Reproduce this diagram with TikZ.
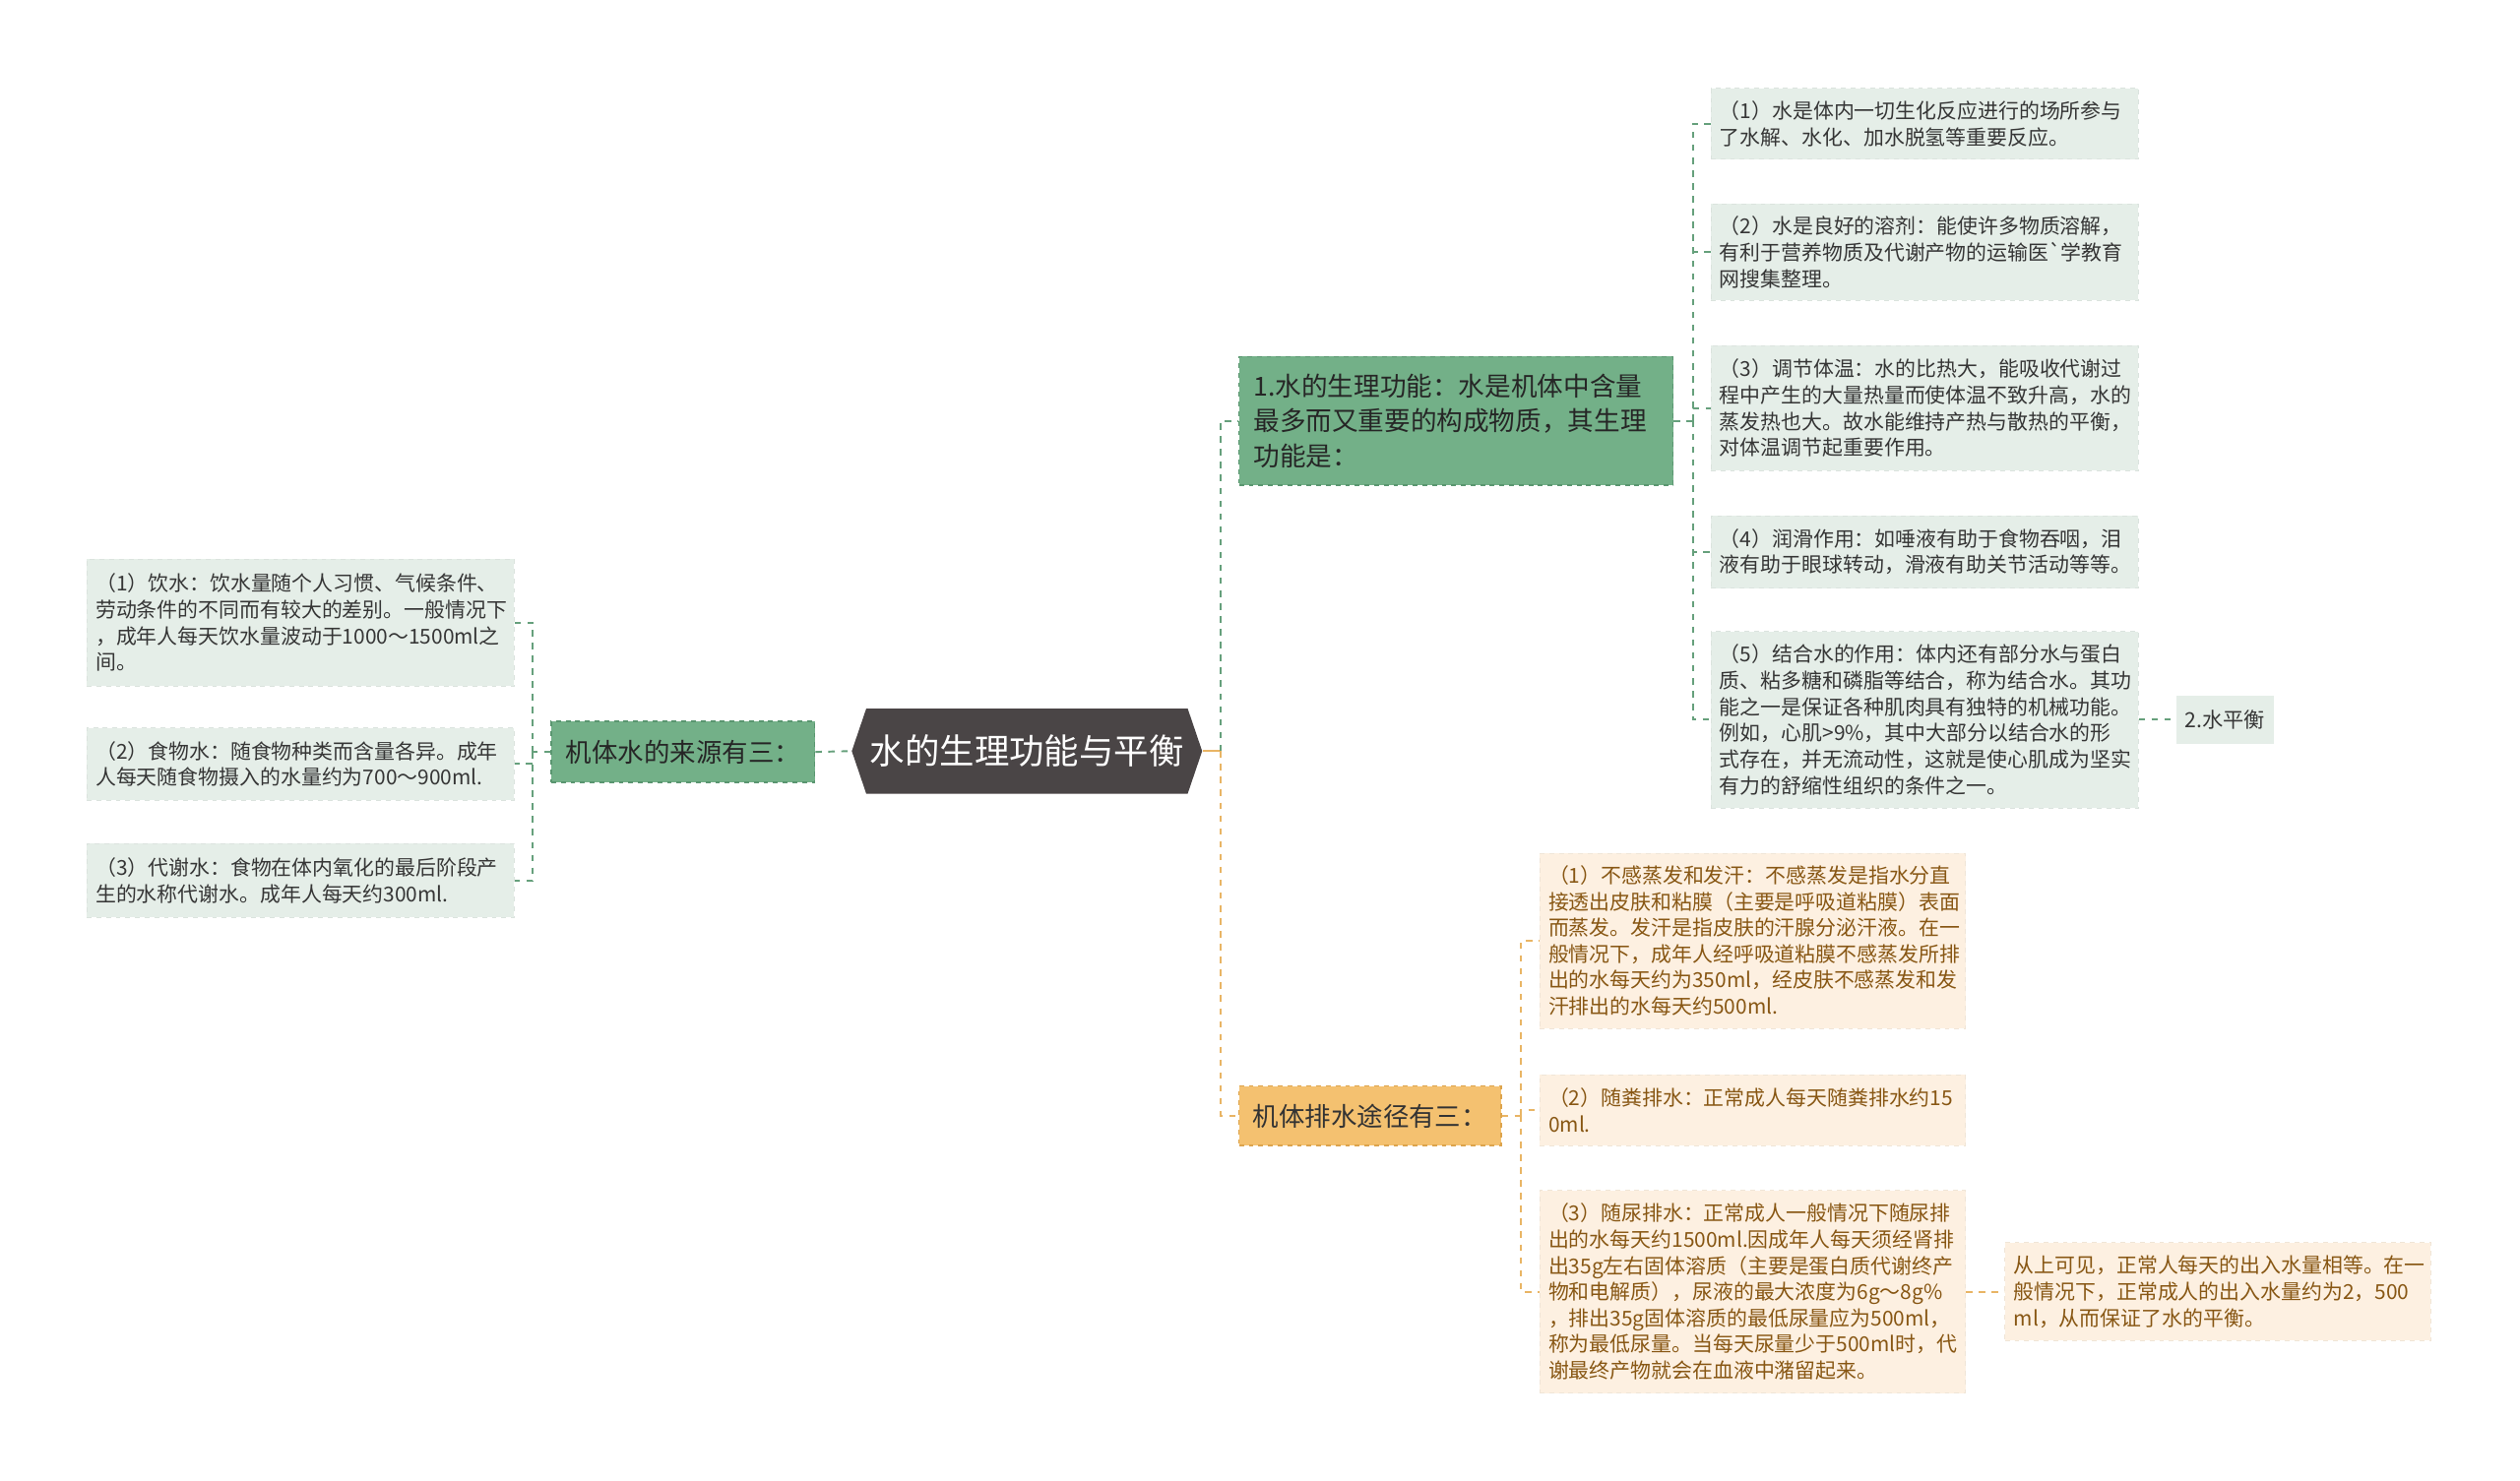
\documentclass[tikz,border=0pt]{standalone}
\usepackage{fontspec}
\setmainfont[Ligatures=TeXOff]{Noto Sans CJK SC}
\definecolor{rootc}{HTML}{4A4546}
\definecolor{gmain}{HTML}{73B088}
\definecolor{gborder}{HTML}{5A9670}
\definecolor{gbox}{HTML}{E5EEE8}
\definecolor{gline}{HTML}{66A07C}
\definecolor{gtext}{HTML}{363636}
\definecolor{omain}{HTML}{F4C170}
\definecolor{oborder}{HTML}{DDA44C}
\definecolor{obox}{HTML}{FDF0E1}
\definecolor{oline}{HTML}{E9B565}
\definecolor{otext}{HTML}{885714}
\tikzset{
  rootnode/.style={fill=white, minimum width=218pt, minimum height=53pt, inner sep=0pt,
    text=white, font=\fontsize{21.7}{26}\selectfont,
    path picture={\fill[rootc] (path picture bounding box.west)
      -- ([xshift=9pt]path picture bounding box.north west)
      -- ([xshift=-9pt]path picture bounding box.north east)
      -- (path picture bounding box.east)
      -- ([xshift=-9pt]path picture bounding box.south east)
      -- ([xshift=9pt]path picture bounding box.south west) -- cycle;}},
  gtopic/.style={fill=gmain, draw=gborder, dashed, line width=0.8pt, text=black!85,
    font=\fontsize{16.2}{20}\selectfont, minimum height=38pt},
  otopic/.style={fill=omain, draw=oborder, dashed, line width=0.8pt, text=black!80,
    font=\fontsize{16.2}{20}\selectfont, minimum height=37pt},
  gleaf/.style={fill=gbox, draw=gbox!90!gray, dashed, line width=0.5pt, text=gtext,
    align=left, text width=255pt, inner xsep=5.5pt},
  oleaf/.style={fill=obox, draw=obox!90!gray, dashed, line width=0.5pt, text=otext,
    align=left, text width=254pt, inner xsep=5.5pt},
  glink/.style={draw=gline, line width=1.2pt, dash pattern=on 4pt off 4pt},
  olink/.style={draw=oline, line width=1.2pt, dash pattern=on 4pt off 4pt},
}
\begin{document}
\begin{tikzpicture}[x=1pt, y=-1pt, font=\fontsize{12.8}{16.3}\selectfont]
    \fill[white] (0,0) rectangle (1568,921.8);
    \useasboundingbox (0,0) rectangle (1568,921.8);

    % Root
    \node[rootnode] (root) at (639,467.5) {水的生理功能与平衡};

    % Left branch: sources
    \node[gtopic, minimum width=164pt] (lp) at (425,468) {机体水的来源有三：};
    \node[gleaf, minimum height=79pt] (l1) at (187,387.5) {（1）饮水：饮水量随个人习惯、气候条件、\\劳动条件的不同而有较大的差别。一般情况下\\，成年人每天饮水量波动于1000～1500ml之\\间。};
    \node[gleaf, minimum height=45pt] (l2) at (187,475.5) {（2）食物水：随食物种类而含量各异。成年\\人每天随食物摄入的水量约为700～900ml.};
    \node[gleaf, minimum height=46pt] (l3) at (187,548) {（3）代谢水：食物在体内氧化的最后阶段产\\生的水称代谢水。成年人每天约300ml.};

    % Right branch: functions
    \node[gtopic, align=left, text width=252pt, inner xsep=9pt, minimum height=80pt,
      font=\fontsize{16.3}{22}\selectfont] (fn) at (906,262) {1.水的生理功能：水是机体中含量\\最多而又重要的构成物质，其生理\\功能是：};
    \node[gleaf, minimum height=44pt] (c1) at (1197.5,77) {（1）水是体内一切生化反应进行的场所参与\\了水解、水化、加水脱氢等重要反应。};
    \node[gleaf, minimum height=60pt] (c2) at (1197.5,157) {（2）水是良好的溶剂：能使许多物质溶解，\\有利于营养物质及代谢产物的运输医`学教育\\网搜集整理。};
    \node[gleaf, minimum height=78pt] (c3) at (1197.5,254) {（3）调节体温：水的比热大，能吸收代谢过\\程中产生的大量热量而使体温不致升高，水的\\蒸发热也大。故水能维持产热与散热的平衡，\\对体温调节起重要作用。};
    \node[gleaf, minimum height=45pt] (c4) at (1197.5,343.5) {（4）润滑作用：如唾液有助于食物吞咽，泪\\液有助于眼球转动，滑液有助关节活动等等。};
    \node[gleaf, minimum height=110pt] (c5) at (1197.5,448) {（5）结合水的作用：体内还有部分水与蛋白\\质、粘多糖和磷脂等结合，称为结合水。其功\\能之一是保证各种肌肉具有独特的机械功能。\\例如，心肌>9\%，其中大部分以结合水的形\\式存在，并无流动性，这就是使心肌成为坚实\\有力的舒缩性组织的条件之一。};
    \node[fill=gbox, text=gtext, minimum width=61pt, minimum height=30pt, inner sep=0pt,
      font=\fontsize{13}{15}\selectfont] (wb) at (1384.5,448) {2.水平衡};

    % Right branch: output
    \node[otopic, minimum width=163pt] (dr) at (852.5,694.5) {机体排水途径有三：};
    \node[oleaf, minimum height=109pt] (o1) at (1090.5,585.5) {（1）不感蒸发和发汗：不感蒸发是指水分直\\接透出皮肤和粘膜（主要是呼吸道粘膜）表面\\而蒸发。发汗是指皮肤的汗腺分泌汗液。在一\\般情况下，成年人经呼吸道粘膜不感蒸发所排\\出的水每天约为350ml，经皮肤不感蒸发和发\\汗排出的水每天约500ml.};
    \node[oleaf, minimum height=44pt] (o2) at (1090.5,691) {（2）随粪排水：正常成人每天随粪排水约15\\0ml.};
    \node[oleaf, minimum height=126pt] (o3) at (1090.5,804) {（3）随尿排水：正常成人一般情况下随尿排\\出的水每天约1500ml.因成年人每天须经肾排\\出35g左右固体溶质（主要是蛋白质代谢终产\\物和电解质），尿液的最大浓度为6g～8g\%\\，排出35g固体溶质的最低尿量应为500ml，\\称为最低尿量。当每天尿量少于500ml时，代\\谢最终产物就会在血液中潴留起来。};
    \node[oleaf, minimum height=61pt] (o4) at (1380,804) {从上可见，正常人每天的出入水量相等。在一\\般情况下，正常成人的出入水量约为2，500\\ml，从而保证了水的平衡。};

    % Links
    \draw[glink] (lp.east) -- (root.west);
    \draw[glink] (lp.west) -- ++(-11,0) coordinate (lj);
    \foreach \n in {l1,l2,l3}
        \draw[glink] (lj) |- (\n.east);

    \coordinate (rj) at ([xshift=11.5pt]root.east);
    \draw[draw=oline, line width=1.2pt] (root.east) -- (rj);
    \draw[glink] (rj) |- (fn.west);
    \draw[olink] (rj) |- (dr.west);

    \draw[glink] (fn.east) -- ++(12,0) coordinate (fj);
    \foreach \n in {c1,c2,c3,c4,c5}
        \draw[glink] (fj) |- (\n.west);
    \draw[glink] (c5.east) -- (wb.west);

    \draw[olink] (dr.east) -- ++(12,0) coordinate (dj);
    \foreach \n in {o1,o2,o3}
        \draw[olink] (dj) |- (\n.west);
    \draw[olink] (o3.east) -- (o4.west);

\end{tikzpicture}
\end{document}
